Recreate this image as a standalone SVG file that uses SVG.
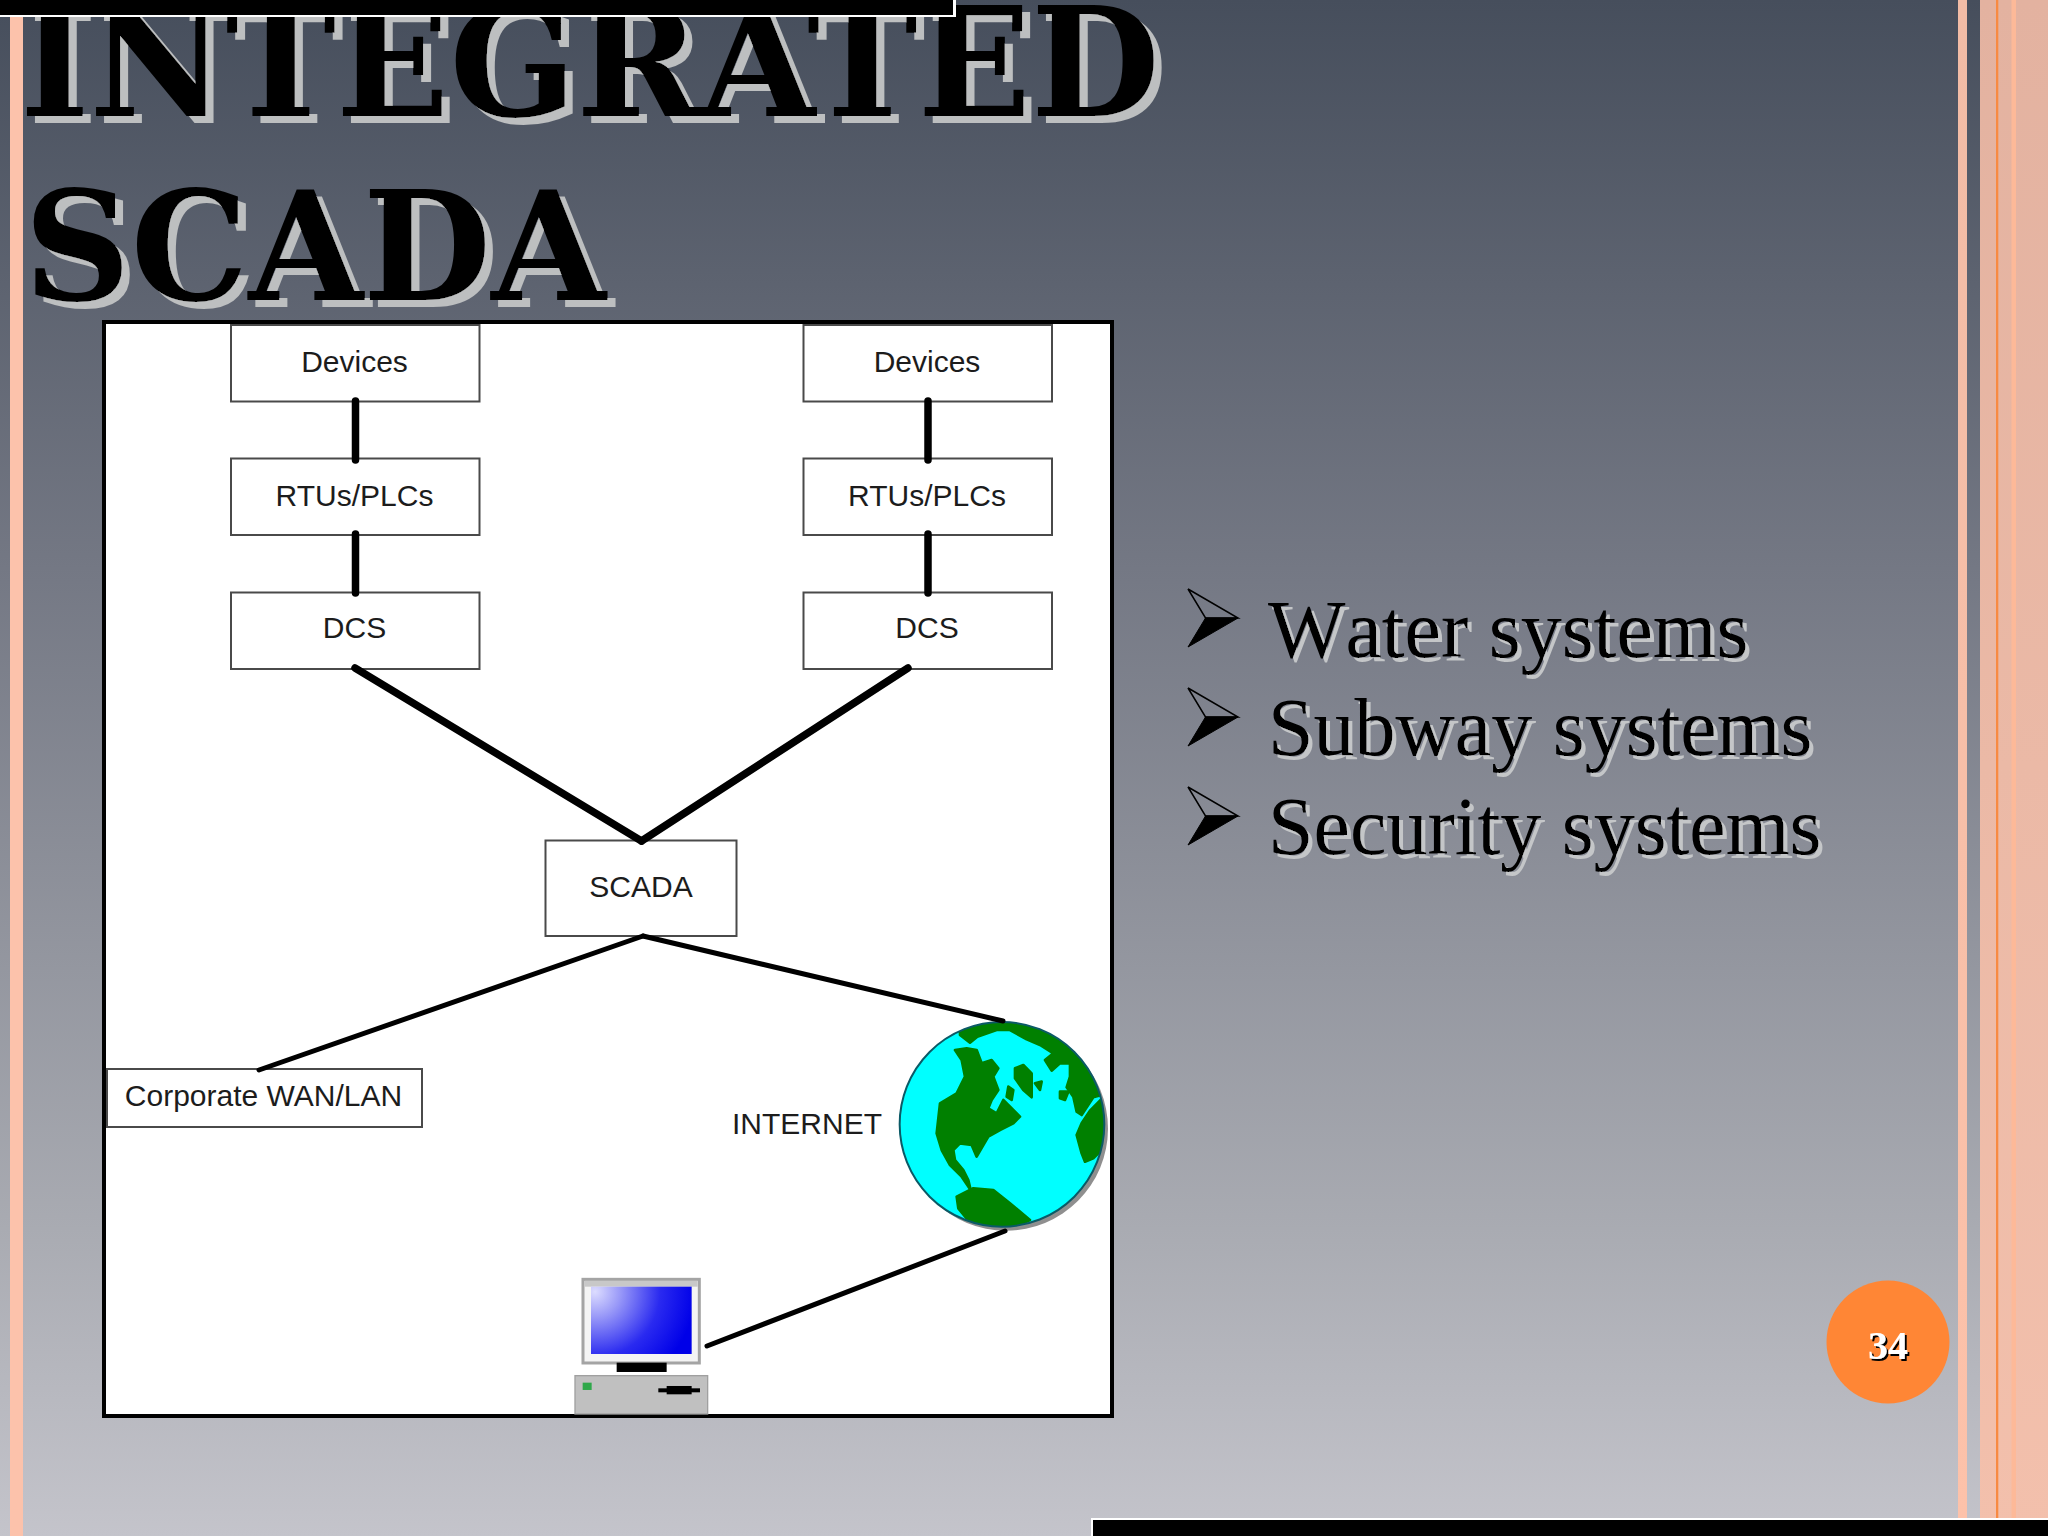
<svg xmlns="http://www.w3.org/2000/svg" width="2048" height="1536" viewBox="0 0 2048 1536">
<style>
.box{fill:#fff;stroke:#4a4a4a;stroke-width:2}
.lbl{font-family:"Liberation Sans",Arial,sans-serif;font-size:30px;fill:#1c1c1c;text-anchor:middle}
.title{font-family:"DejaVu Serif","Liberation Serif",serif;font-weight:700;font-size:151px;fill:#000;filter:url(#shTitle)}
.body{font-family:"Liberation Serif","Times New Roman",serif;font-size:82px;font-kerning:none;fill:#000;filter:url(#shBody)}
.thick{stroke:#000;stroke-width:7.5;stroke-linecap:round;fill:none}
.thin{stroke:#000;stroke-width:5;stroke-linecap:round;fill:none}
.land{fill:#008000;stroke:#008000;stroke-width:8;stroke-linejoin:round}
</style>
<defs>
<linearGradient id="bg" x1="0" y1="0" x2="0" y2="1">
<stop offset="0" stop-color="#464e5c"/><stop offset="0.37" stop-color="#747884"/><stop offset="0.8" stop-color="#a9abb2"/><stop offset="1" stop-color="#c4c4cb"/>
</linearGradient>
<linearGradient id="salmon" x1="0" y1="0" x2="0" y2="1"><stop offset="0" stop-color="#e3b2a0"/><stop offset="1" stop-color="#f3c0ac"/></linearGradient>
<linearGradient id="salmon2" x1="0" y1="0" x2="0" y2="1"><stop offset="0" stop-color="#f2bca6"/><stop offset="1" stop-color="#fdc2aa"/></linearGradient>
<radialGradient id="screen" gradientUnits="userSpaceOnUse" cx="165" cy="125" r="300"><stop offset="0" stop-color="#dcdcff"/><stop offset="0.25" stop-color="#9a9af8"/><stop offset="0.65" stop-color="#2a2af0"/><stop offset="1" stop-color="#0000e8"/></radialGradient>
<filter id="shTitle" x="-5%" y="-10%" width="110%" height="125%"><feDropShadow dx="8" dy="7" stdDeviation="0" flood-color="#bdbfc0"/></filter>
<filter id="shBody" x="-5%" y="-10%" width="110%" height="125%"><feDropShadow dx="4" dy="4" stdDeviation="0" flood-color="#c4c6c8"/></filter>
<filter id="shNum" x="-20%" y="-20%" width="140%" height="140%"><feDropShadow dx="2" dy="2" stdDeviation="0" flood-color="#000"/></filter>
<clipPath id="globeClip"><circle cx="426" cy="433" r="307"/></clipPath>
<g id="bullet"><path d="M0 -29L50 0L17.500 0Z" fill="none" stroke="#000" stroke-width="1.500"/><path d="M0 29L50 0L17.500 0Z" fill="#000" stroke="#000" stroke-width="1"/></g>
</defs>

<g id="background">
<rect width="2048" height="1536" fill="url(#bg)"/>
<rect x="10" y="0" width="13" height="1536" fill="#fcc2ab"/>
<rect x="1958" y="0" width="9" height="1536" fill="url(#salmon2)"/>
<rect x="1980" y="0" width="68" height="1536" fill="url(#salmon)"/>
<rect x="1996" y="0" width="2.300" height="1536" fill="#f88a42"/>
<rect x="2011.500" y="0" width="4.500" height="1536" fill="#fdb998"/>
</g>

<g id="heading">
<text class="title" x="20" y="116" textLength="1140" lengthAdjust="spacingAndGlyphs">INTEGRATED</text>
<text class="title" x="24" y="300" textLength="582" lengthAdjust="spacingAndGlyphs">SCADA</text>
</g>

<g id="panel"><rect x="104" y="322" width="1008" height="1094" fill="#fff" stroke="#000" stroke-width="4"/></g>

<g id="devices-left"><rect class="box" x="231" y="325" width="248.500" height="76.500"/><text class="lbl" x="354.500" y="371.500">Devices</text></g>
<g id="rtus-left"><rect class="box" x="231" y="458.500" width="248.500" height="76.500"/><text class="lbl" x="354.500" y="505.500">RTUs/PLCs</text></g>
<g id="dcs-left"><rect class="box" x="231" y="592.500" width="248.500" height="76.500"/><text class="lbl" x="354.500" y="638">DCS</text></g>
<g id="devices-right"><rect class="box" x="803.500" y="325" width="248.500" height="76.500"/><text class="lbl" x="927" y="371.500">Devices</text></g>
<g id="rtus-right"><rect class="box" x="803.500" y="458.500" width="248.500" height="76.500"/><text class="lbl" x="927" y="505.500">RTUs/PLCs</text></g>
<g id="dcs-right"><rect class="box" x="803.500" y="592.500" width="248.500" height="76.500"/><text class="lbl" x="927" y="638">DCS</text></g>
<g id="scada"><rect class="box" x="545.500" y="840.500" width="191" height="95.500"/><text class="lbl" x="641" y="896.500">SCADA</text></g>
<g id="corporate"><rect x="102" y="1069" width="6" height="58" fill="#000"/><rect class="box" x="107" y="1069" width="315" height="58"/><text class="lbl" x="263.500" y="1105.500">Corporate WAN/LAN</text></g>

<g id="internet">
<text class="lbl" x="882" y="1134" style="text-anchor:end">INTERNET</text>
<g transform="translate(860 980) scale(0.3333)">
<circle cx="438" cy="446" r="306" fill="#8f8f8f"/>
<circle cx="426" cy="433" r="307" fill="#00ffff"/>
<g clip-path="url(#globeClip)">
<path class="land" d="M300 165L330 188L352 170L410 150L450 150L500 178L540 195L580 220L555 240L575 272L600 250L630 250L630 290L620 322L640 350L650 395L665 405L700 352L725 345L760 300L620 100L300 100Z"/>
<path class="land" d="M722 360L690 392L665 430L650 465L665 520L675 545L700 535L725 510L745 450L740 380Z"/>
<path class="land" d="M285 210L320 205L350 210L365 250L395 240L415 265L400 290L415 330L395 360L385 385L410 400L430 360L445 375L480 410L460 430L420 450L385 470L350 530L335 495L300 490L280 510L285 540L310 570L325 600L332 630L305 590L270 555L245 510L230 460L240 370L290 340L315 290L305 240Z"/>
<path class="land" d="M465 265L490 255L515 280L515 352L490 330L465 295Z"/>
<path class="land" d="M445 320L460 330L455 360L440 350Z"/>
<path class="land" d="M525 310L545 305L540 330Z"/>
<path class="land" d="M600 335L625 335L615 360L600 355Z"/>
<path class="land" d="M290 650L340 625L400 630L450 670L510 720L430 760L340 740L295 685Z"/>
</g>
<circle cx="426" cy="433" r="307" fill="none" stroke="#0b5a66" stroke-width="6"/>
</g>
</g>

<g id="computer" transform="translate(540 1250) scale(0.3333)">
<rect x="129" y="88" width="349" height="251" fill="#f4f4f4" stroke="#a4a4a4" stroke-width="9"/>
<rect x="134" y="93" width="339" height="17" fill="#c8c8c8"/>
<rect x="153" y="110" width="302" height="202" fill="url(#screen)"/>
<rect x="230" y="338" width="150" height="28" fill="#000"/>
<rect x="105" y="377" width="398" height="115" fill="#c0c0c0" stroke="#a0a0a0" stroke-width="4"/>
<rect x="128" y="398" width="27" height="22" fill="#2fa84a"/>
<rect x="355" y="415" width="125" height="12" fill="#000"/>
<rect x="380" y="408" width="75" height="25" fill="#000"/>
</g>

<g id="connectors">
<line class="thick" x1="355.500" y1="401" x2="355.500" y2="460"/>
<line class="thick" x1="355.500" y1="534" x2="355.500" y2="593"/>
<line class="thick" x1="928" y1="401" x2="928" y2="460"/>
<line class="thick" x1="928" y1="534" x2="928" y2="593"/>
<line class="thick" x1="355" y1="668" x2="641.500" y2="841"/>
<line class="thick" x1="908" y1="668" x2="641.500" y2="841"/>
<line class="thin" x1="643" y1="936" x2="259" y2="1070"/>
<line class="thin" x1="643" y1="936" x2="1003" y2="1021"/>
<line class="thin" x1="1005" y1="1231" x2="707" y2="1346"/>
</g>

<g id="bullets">
<use href="#bullet" x="1188" y="618"/>
<use href="#bullet" x="1188" y="717"/>
<use href="#bullet" x="1188" y="816"/>
<text class="body" x="1268" y="657">Water systems</text>
<text class="body" x="1268" y="755">Subway systems</text>
<text class="body" x="1268" y="854">Security systems</text>
</g>

<g id="page-number">
<circle cx="1888" cy="1342" r="61.500" fill="#ff8635"/>
<text x="1888" y="1359" text-anchor="middle" style="font-family:'Liberation Serif',serif;font-weight:700;font-size:40px;fill:#fff;filter:url(#shNum)">34</text>
</g>

<g id="bars">
<rect x="0" y="0" width="956" height="17" fill="#fff"/>
<rect x="0" y="0" width="953" height="15" fill="#000"/>
<rect x="1091" y="1518" width="957" height="18" fill="#fff"/>
<rect x="1093" y="1520" width="955" height="16" fill="#000"/>
</g>
</svg>
